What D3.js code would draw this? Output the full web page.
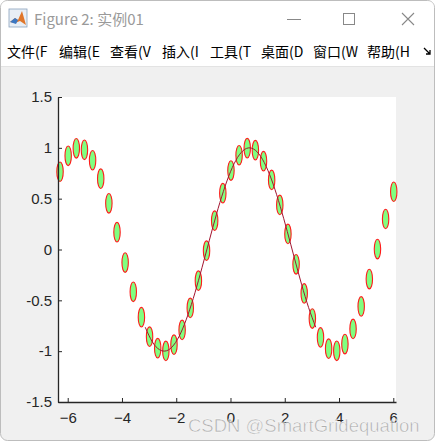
<!DOCTYPE html>
<html><head><meta charset="utf-8">
<script src="https://cdn.jsdelivr.net/npm/d3@7"></script>
<style>body{margin:0;background:#fff;}svg{display:block;}</style>
</head><body>
<svg id="c" width="436" height="446"></svg>
<script>
// ---- data ----
const markerX = d3.range(42).map(k => -6.2832 + 0.3 * k); // -2π:0.3:2π
const markerY = [0.765,0.921,0.995,0.980,0.878,0.697,0.454,0.170,-0.129,-0.416,
  -0.666,-0.857,-0.971,-0.998,-0.936,-0.791,-0.575,-0.307,-0.012,0.284,
  0.554,0.776,0.927,0.997,0.977,0.869,0.684,0.438,0.153,-0.146,
  -0.432,-0.679,-0.865,-0.975,-0.997,-0.930,-0.781,-0.560,-0.291,0.004,
  0.300,0.568];
const lineX = [-3.142,-2.880,-2.618,-2.356,-2.094,-1.833,-1.571,-1.309,-1.047,-0.785,-0.524,-0.262,
  0,0.262,0.524,0.785,1.047,1.309,1.571,1.833,2.094,2.356,2.618,2.880,3.142];
const lineY = [-0.765,-0.909,-0.985,-0.996,-0.940,-0.821,-0.644,-0.425,-0.175,0.085,0.341,0.572,
  0.765,0.906,0.985,0.996,0.940,0.820,0.644,0.424,0.176,-0.085,-0.341,-0.572,-0.765];
const xTicks = [-6,-4,-2,0,2,4,6];
const yTicks = [-1.5,-1,-0.5,0,0.5,1,1.5];
const menuItems = ["文件(F","编辑(E","查看(V","插入(I","工具(T","桌面(D","窗口(W","帮助(H"];
const windowTitle = "Figure 2: 实例01";

const svg = d3.select("#c");
const font = "'Liberation Sans', Arial, sans-serif";
const cjk = "'Noto Sans CJK SC', 'Microsoft YaHei', sans-serif";

// window frame
svg.append("rect").attr("x",0.5).attr("y",0.5).attr("width",434).attr("height",440)
  .attr("rx",7).attr("fill","#f0f0f0").attr("stroke","#bdbdbd");
svg.append("path").attr("d","M1,66 L1,8 Q1,1 8,1 L427,1 Q434,1 434,8 L434,66 Z").attr("fill","#fff");
svg.append("line").attr("x1",1).attr("x2",434).attr("y1",66.5).attr("y2",66.5).attr("stroke","#e3e3e3");

// icon
const ic = svg.append("g").attr("transform","translate(9,9)");
ic.append("rect").attr("width",18).attr("height",18).attr("fill","#e8eef5").attr("stroke","#8aa2bd").attr("stroke-width",0.8);
ic.append("path").attr("d","M1,13 L6,9 L9,11 L13,2 L17,16 L11,12 L6,14 Z").attr("fill","#e0762a");
ic.append("path").attr("d","M1,13 L6,9 L9,11 L7,15 Z").attr("fill","#3b77c2");
svg.append("text").attr("x",34).attr("y",25).attr("font-family",cjk).attr("font-size",15)
  .attr("fill","#9a9a9a").text(windowTitle);
// window buttons
svg.append("line").attr("x1",287).attr("x2",301).attr("y1",19.5).attr("y2",19.5).attr("stroke","#888");
svg.append("rect").attr("x",343.5).attr("y",13.5).attr("width",11).attr("height",11).attr("fill","none").attr("stroke","#888");
svg.append("path").attr("d","M402,13 L414,25 M414,13 L402,25").attr("stroke","#888").attr("stroke-width",1.1);

// menu
const menuXs = [7,59,110,162,210,261,313,367];
const menuW = [45,45,46,42,45,46,48,46];
menuItems.forEach((m,i)=>{
  const cp = svg.append("clipPath").attr("id","mc"+i);
  cp.append("rect").attr("x",menuXs[i]).attr("y",40).attr("width",menuW[i]).attr("height",24);
  svg.append("text").attr("x",menuXs[i]).attr("y",57).attr("font-family",cjk).attr("font-size",14)
    .attr("fill","#000").attr("clip-path","url(#mc"+i+")").text(m);
});
svg.append("path").attr("d","M424,48 L430,54 M430,50 L430,54 L426,54").attr("stroke","#000").attr("stroke-width",1.3).attr("fill","none");

// axes
const L=58, R=396, T=97, B=402;
const x = d3.scaleLinear().domain([-6.358,6.10]).range([L,R]);
const y = d3.scaleLinear().domain([-1.5,1.5]).range([B,T]);
svg.append("rect").attr("x",L).attr("y",T).attr("width",R-L).attr("height",B-T).attr("fill","#fff");

const g = svg.append("g");
g.selectAll("ellipse").data(markerX.map((v,i)=>[v,markerY[i]])).join("ellipse")
  .attr("cx",d=>x(d[0])).attr("cy",d=>y(d[1])).attr("rx",3.2).attr("ry",9.8)
  .attr("fill","#80ff80").attr("stroke","#ff1a1a").attr("stroke-width",1.1);
g.append("path").datum(lineX.map((v,i)=>[v,lineY[i]]))
  .attr("d",d3.line().x(d=>x(d[0])).y(d=>y(d[1])).curve(d3.curveNatural))
  .attr("fill","none").attr("stroke","#a2142f").attr("stroke-width",1);

const xa = svg.append("g").attr("transform",`translate(0,${B})`)
  .call(d3.axisBottom(x).tickValues(xTicks).tickSizeInner(-4).tickSizeOuter(0).tickPadding(10).tickFormat(d3.format("")));
const ya = svg.append("g").attr("transform",`translate(${L},0)`)
  .call(d3.axisLeft(y).tickValues(yTicks).tickSizeInner(-4).tickSizeOuter(0).tickPadding(6).tickFormat(d=>String(d)));
[xa,ya].forEach(a=>{
  a.select(".domain").attr("stroke","#262626").attr("stroke-width",1.3);
  a.selectAll(".tick line").attr("stroke","#262626");
  a.selectAll("text").attr("font-family",font).attr("font-size",15).attr("fill","#262626");
});
xa.selectAll("text").attr("dy","0.71em");

// watermark
svg.append("text").attr("x",188).attr("y",432).attr("font-family",font).attr("font-size",18.5)
  .attr("fill","#9a9a9a").attr("fill-opacity",0.75).attr("stroke","#fff").attr("stroke-width",0.4)
  .text("CSDN @SmartGridequation");
</script>
</body></html>
